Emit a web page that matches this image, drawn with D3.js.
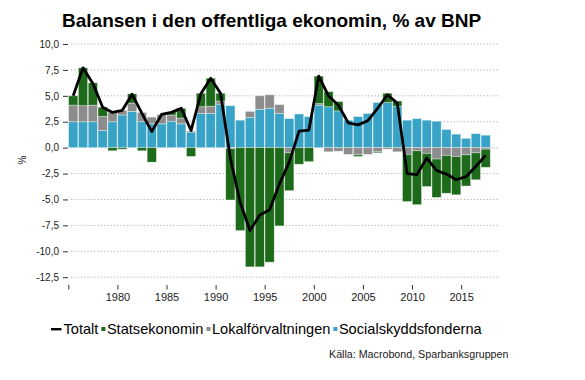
<!DOCTYPE html>
<html>
<head>
<meta charset="utf-8">
<script src="https://cdn.jsdelivr.net/npm/d3@7"></script>
<style>
body { margin: 0; background: #fff; }
svg { display: block; font-family: "Liberation Sans", Arial, sans-serif; }
</style>
</head>
<body>
<svg id="chart" width="585" height="380"></svg>
<script>
// data (% of GDP)
const years = [1975,1976,1977,1978,1979,1980,1981,1982,1983,1984,1985,1986,1987,1988,1989,
  1990,1991,1992,1993,1994,1995,1996,1997,1998,1999,2000,2001,2002,2003,2004,2005,2006,
  2007,2008,2009,2010,2011,2012,2013,2014,2015,2016,2017];

const socialskydd = [2.5,2.5,2.5,1.65,2.5,3.15,3.5,2.5,2.3,2.3,2.55,2.3,1.5,3.3,3.3,
  4.2,4.05,2.65,2.9,3.7,3.8,3.3,2.8,3.25,3.0,4.1,3.95,3.55,2.65,3.0,3.3,4.35,
  4.35,4.0,2.65,2.8,2.65,2.55,1.75,1.3,0.9,1.35,1.2];

const lokal = [1.6,1.55,1.6,1.35,0.9,0.45,0.8,0.9,0.65,0.9,0.6,0.55,0.1,0.65,0.7,
  0.3,-0.1,0,0.6,1.3,1.3,0.85,-0.5,0,0,0.15,-0.4,-0.35,-0.65,-0.7,-0.65,-0.4,
  -0.15,-0.4,-0.65,-0.3,-0.55,-1.1,-0.75,-0.85,-0.7,-0.5,-0.15];

const stat = [0.9,3.65,2.15,0.9,-0.3,-0.15,0.9,-0.3,-1.4,0,0.3,0.95,-0.85,1.3,2.7,
  0.75,-4.95,-8.0,-11.5,-11.5,-11.05,-7.55,-3.65,-1.6,-1.35,2.65,1.45,0.9,0,-0.15,0,-0.1,
  0.9,0.5,-4.55,-5.2,-3.2,-3.7,-3.65,-3.7,-3.0,-2.6,-1.75];

const totalt = [5.0,7.7,6.2,3.9,3.4,3.6,5.15,3.3,1.55,3.2,3.4,3.8,1.65,5.2,6.7,
  5.25,-1.0,-5.3,-8.0,-6.5,-6.0,-3.5,-1.4,1.6,1.7,6.9,5.0,4.1,2.4,2.2,2.6,3.8,
  5.1,4.3,-2.5,-2.6,-1.0,-2.2,-2.55,-3.1,-2.8,-1.8,-0.75];

const yTicks = [10, 7.5, 5, 2.5, 0, -2.5, -5, -7.5, -10, -12.5];
const xTicks = [1975, 1980, 1985, 1990, 1995, 2000, 2005, 2010, 2015];

const colors = { stat: "#1e6a1b", lokal: "#8c8c8c", social: "#38a3c6" };

let svg = d3.select("#chart");

let x = d3.scaleLinear().domain([1975, 2019]).range([68.3, 500.4]);
let y = d3.scaleLinear().domain([-12.5, 10]).range([277.2, 44]);
let step = x(1976) - x(1975);

// title
svg.append("text")
  .attr("x", 62).attr("y", 27)
  .style("font-size", "19px").style("font-weight", "bold")
  .attr("fill", "#000")
  .text("Balansen i den offentliga ekonomin, % av BNP");

// dotted grid
svg.append("g").selectAll("line")
  .data(yTicks)
  .enter().append("line")
    .attr("x1", 71).attr("x2", 500)
    .attr("y1", d => y(d)).attr("y2", d => y(d))
    .attr("stroke", "#b5b5b5")
    .attr("stroke-dasharray", "1.3,2")
    .attr("stroke-width", 1);

// stacked bars: social at the bottom, then local, then state
let rows = years.map((yr, i) => ({ year: yr, social: socialskydd[i], lokal: lokal[i], stat: stat[i] }));
let stack = d3.stack().keys(["social", "lokal", "stat"]).offset(d3.stackOffsetDiverging);
let series = stack(rows);

svg.append("g").selectAll("g")
  .data(series)
  .enter().append("g")
    .attr("fill", d => colors[d.key])
  .selectAll("rect")
  .data(d => d)
  .enter().append("rect")
    .attr("x", d => x(d.data.year) + 0.3)
    .attr("width", step - 0.6)
    .attr("y", d => y(Math.max(d[0], d[1])))
    .attr("height", d => Math.abs(y(d[0]) - y(d[1])))
    .attr("stroke", "#fff")
    .attr("stroke-opacity", 0.45)
    .attr("stroke-width", 0.8);

// total line
let line = d3.line()
  .x((d, i) => x(years[i] + 0.5))
  .y(d => y(d));

svg.append("path")
  .datum(totalt)
  .attr("d", line)
  .attr("fill", "none")
  .attr("stroke", "#000")
  .attr("stroke-width", 2.8)
  .attr("stroke-linejoin", "round");

// y axis: short ticks + labels, no domain line
let fmt = d => (d < 0 ? "-" : "") + Math.abs(d).toFixed(1).replace(".", ",");
let yAxis = svg.append("g")
  .attr("transform", "translate(68,0)")
  .call(d3.axisLeft(y).tickValues(yTicks).tickSize(5).tickPadding(4).tickFormat(fmt));
yAxis.select(".domain").remove();
yAxis.selectAll(".tick line").attr("stroke", "#333");
yAxis.selectAll(".tick text").attr("fill", "#1a1a1a").style("font-size", "10px")
  .style("font-family", "'Liberation Sans', Arial, sans-serif");

svg.append("text")
  .attr("transform", "translate(26,160) rotate(-90)")
  .attr("text-anchor", "middle")
  .style("font-size", "10px")
  .attr("fill", "#1a1a1a")
  .text("%");

// x axis: ticks at year boundaries, 1975 has no label
let xAxis = svg.append("g")
  .attr("transform", "translate(0,285)")
  .call(d3.axisBottom(x).tickValues(xTicks).tickSize(4.5).tickPadding(4)
    .tickFormat(d => d === 1975 ? "" : d));
xAxis.select(".domain").remove();
xAxis.selectAll(".tick line").attr("stroke", "#333");
xAxis.selectAll(".tick text").attr("fill", "#1a1a1a").style("font-size", "11px")
  .style("font-family", "'Liberation Sans', Arial, sans-serif");

// legend
let legendItems = [
  { name: "Totalt", type: "line", color: "#000" },
  { name: "Statsekonomin", type: "box", color: colors.stat },
  { name: "Lokalförvaltningen", type: "box", color: colors.lokal },
  { name: "Socialskyddsfonderna", type: "box", color: colors.social }
];
let lx = 51, ly = 334;
let legend = svg.append("g");
legendItems.forEach(item => {
  if (item.type === "line") {
    legend.append("rect").attr("x", lx).attr("y", ly - 6).attr("width", 10.5).attr("height", 2.4).attr("fill", item.color);
    lx += 12.5;
  } else {
    legend.append("rect").attr("x", lx).attr("y", ly - 7).attr("width", 4).attr("height", 4).attr("fill", item.color);
    lx += 5.5;
  }
  let t = legend.append("text")
    .attr("x", lx).attr("y", ly)
    .style("font-size", "14.6px")
    .attr("fill", "#000")
    .text(item.name);
  lx += t.node().getComputedTextLength() + 3;
});

// source
svg.append("text")
  .attr("x", 329).attr("y", 358)
  .style("font-size", "10.7px")
  .attr("fill", "#1a1a1a")
  .text("Källa: Macrobond, Sparbanksgruppen");
</script>
</body>
</html>
